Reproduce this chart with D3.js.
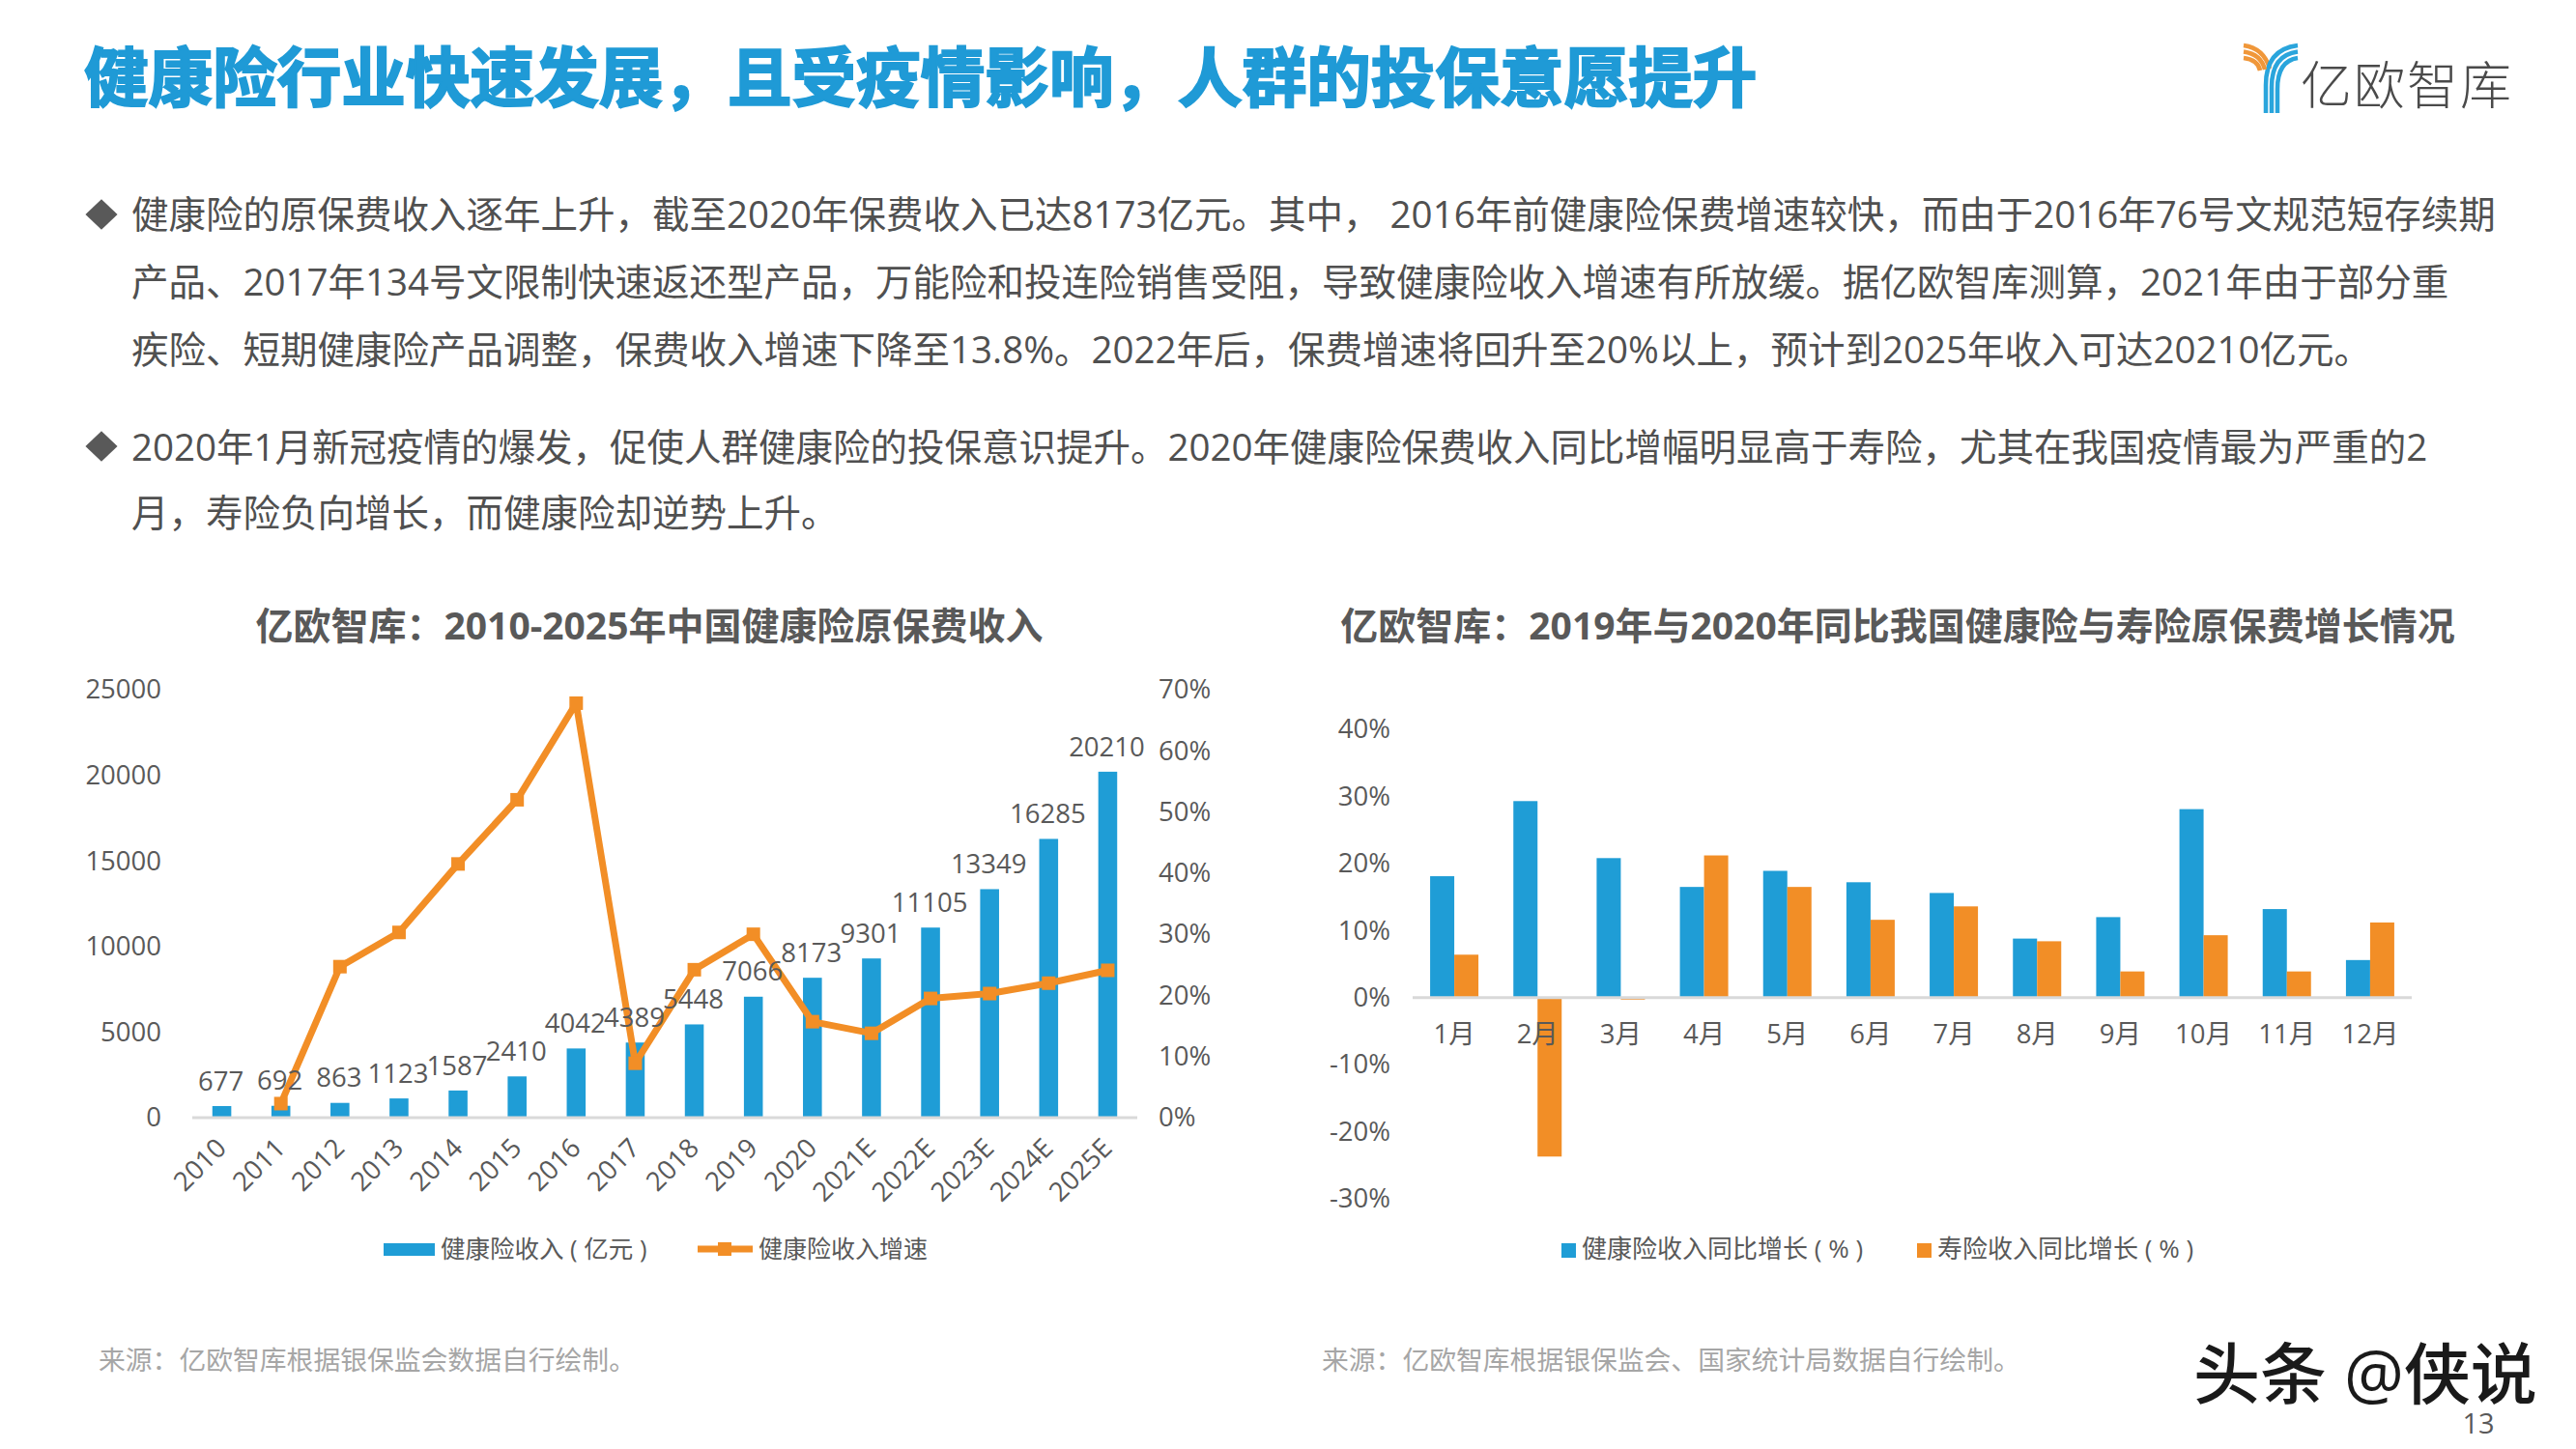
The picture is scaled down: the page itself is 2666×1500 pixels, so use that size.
<!DOCTYPE html>
<html>
<head>
<meta charset="utf-8">
<script src="https://cdnjs.cloudflare.com/ajax/libs/d3/7.8.5/d3.min.js"></script>
<style>
  html, body { margin: 0; padding: 0; background: #fff; }
  text { font-family: "Open Sans", "Noto Sans CJK SC", sans-serif; }
</style>
</head>
<body>
<div id="page"></div>
<script>
//// DATA ///////////////////////////////////////////////////////////////////////
var years = ["2010", "2011", "2012", "2013", "2014", "2015", "2016", "2017", "2018", "2019",
             "2020", "2021E", "2022E", "2023E", "2024E", "2025E"];
var income = [677, 692, 863, 1123, 1587, 2410, 4042, 4389, 5448, 7066, 8173, 9301, 11105, 13349, 16285, 20210];
var growth = [null, 2.3, 24.7, 30.3, 41.5, 52, 67.8, 8.9, 24.2, 30, 15.7, 13.8, 19.5, 20.3, 22, 24.1];
var incomeTicks = [0, 5000, 10000, 15000, 20000, 25000];
var growthTicks = [0, 10, 20, 30, 40, 50, 60, 70];

var months = ["1月", "2月", "3月", "4月", "5月", "6月", "7月", "8月", "9月", "10月", "11月", "12月"];
var healthYoy = [18.1, 29.3, 20.8, 16.5, 18.9, 17.2, 15.6, 8.8, 12.0, 28.1, 13.2, 5.6];
var lifeYoy = [6.4, -23.7, -0.3, 21.2, 16.5, 11.6, 13.6, 8.4, 3.9, 9.3, 3.9, 11.2];
var yoyTicks = [-30, -20, -10, 0, 10, 20, 30, 40];

var pageTitle = "健康险行业快速发展\uFF0C且受疫情影响\uFF0C人群的投保意愿提升";
var para1 = ["健康险的原保费收入逐年上升\uFF0C截至2020年保费收入已达8173亿元。其中\uFF0C 2016年前健康险保费增速较快\uFF0C而由于2016年76号文规范短存续期",
             "产品、2017年134号文限制快速返还型产品\uFF0C万能险和投连险销售受阻\uFF0C导致健康险收入增速有所放缓。据亿欧智库测算\uFF0C2021年由于部分重",
             "疾险、短期健康险产品调整\uFF0C保费收入增速下降至13.8%。2022年后\uFF0C保费增速将回升至20%以上\uFF0C预计到2025年收入可达20210亿元。"];
var para2 = ["2020年1月新冠疫情的爆发\uFF0C促使人群健康险的投保意识提升。2020年健康险保费收入同比增幅明显高于寿险\uFF0C尤其在我国疫情最为严重的2",
             "月\uFF0C寿险负向增长\uFF0C而健康险却逆势上升。"];
var leftTitle = "亿欧智库\uFF1A2010-2025年中国健康险原保费收入";
var rightTitle = "亿欧智库\uFF1A2019年与2020年同比我国健康险与寿险原保费增长情况";
var leftSource = "来源\uFF1A亿欧智库根据银保监会数据自行绘制。";
var rightSource = "来源\uFF1A亿欧智库根据银保监会、国家统计局数据自行绘制。";

//// SETTINGS ///////////////////////////////////////////////////////////////////
var width = 2666, height = 1500;
var blue = "#1f9dd6", orange = "#f28e26", textGrey = "#595959", bodyGrey = "#505050";

var svg = d3.select("#page").append("svg")
    .attr("width", width)
    .attr("height", height)
    .style("display", "block");

function put_text(x, y, str, size, fill, weight, anchor) {
    return svg.append("text")
        .attr("x", x)
        .attr("y", y)
        .attr("dy", ".35em")
        .style("font-size", size + "px")
        .style("font-weight", weight || "normal")
        .style("text-anchor", anchor || "start")
        .attr("fill", fill)
        .text(str);
}

//// HEADER /////////////////////////////////////////////////////////////////////
put_text(87, 82, pageTitle, 66.6, "#1f9ad6", "bold")
    .attr("stroke", "#1f9ad6").attr("stroke-width", 2);

// Logo: the orange and blue stripes of the Y.
var logo = svg.append("g").attr("fill", "none").attr("stroke-width", 4.5);
[0, 1, 2].forEach(function(i) {
    logo.append("path")
        .attr("stroke", "#f0973a")
        .attr("d", "M2322 " + (47 + i * 6.5) + "Q" + (2343 - i * 3) + " " + (50 + i * 6) + " " + (2349 - i * 5) + " " + (71 + i));
    logo.append("path")
        .attr("stroke", "#2aa5dc")
        .attr("d", "M" + (2345 + i * 6) + " 117V" + (88 + i * 2) + "Q" + (2345 + i * 6) + " " + (51 + i * 6) + " 2378 " + (47 + i * 6.5));
});
put_text(2381, 89, "亿欧智库", 53, "#4a4a4a", "200").style("font-family", "'Noto Sans CJK SC'").style("letter-spacing", "2px");

//// BODY TEXT //////////////////////////////////////////////////////////////////
var bodyY = [223, 293, 363];
para1.forEach(function(line, i) { put_text(136, bodyY[i], line, 38.5, bodyGrey); });
var bodyY2 = [464, 532];
para2.forEach(function(line, i) { put_text(136, bodyY2[i], line, 38.5, bodyGrey); });
[222, 462].forEach(function(y) {
    svg.append("path")
        .attr("d", d3.symbol(d3.symbolDiamond2, 700)())
        .attr("transform", "translate(105," + y + ") scale(1,.95)")
        .attr("fill", textGrey);
});

//// LEFT CHART /////////////////////////////////////////////////////////////////
put_text(672, 648, leftTitle, 39, textGrey, "bold", "middle");

var x1 = d3.scaleBand().domain(years).range([199, 1177]).paddingInner(0.68).paddingOuter(0.34);
var yIncome = d3.scaleLinear().domain([0, 25000]).range([1157, 714]);
var yGrowth = d3.scaleLinear().domain([0, 70]).range([1157, 714]);
var center1 = function(d) { return x1(d) + x1.bandwidth() / 2; };

function style_axis(g) {
    g.select(".domain").remove();
    g.selectAll(".tick line").remove();
    g.selectAll("text")
        .style("font-size", "27.5px")
        .style("font-family", "'Open Sans','Noto Sans CJK SC',sans-serif")
        .attr("fill", textGrey);
}

svg.append("g")
    .attr("transform", "translate(167,0)")
    .call(d3.axisLeft(yIncome).tickValues(incomeTicks).tickSize(0).tickPadding(0).tickFormat(d3.format("d")))
    .call(style_axis);

svg.append("g")
    .attr("transform", "translate(1199,0)")
    .call(d3.axisRight(yGrowth).tickValues(growthTicks).tickSize(0).tickPadding(0).tickFormat(function(d) { return d + "%"; }))
    .call(style_axis);

svg.selectAll(".income-bar").data(income).enter().append("rect")
    .attr("class", "income-bar")
    .attr("x", function(d, i) { return x1(years[i]); })
    .attr("y", function(d) { return yIncome(d); })
    .attr("width", x1.bandwidth())
    .attr("height", function(d) { return yIncome(0) - yIncome(d); })
    .attr("fill", blue);

// Baseline under the bars, labels rotated like the spreadsheet does it.
svg.append("line")
    .attr("x1", 199).attr("x2", 1177)
    .attr("y1", yIncome(0)).attr("y2", yIncome(0))
    .attr("stroke", "#d9d9d9").attr("stroke-width", 3);

svg.append("g")
    .attr("transform", "translate(0," + yIncome(0) + ")")
    .call(d3.axisBottom(x1).tickSize(0).tickPadding(0))
    .call(style_axis)
    .selectAll("text")
    .attr("dy", null)
    .attr("y", 0)
    .style("text-anchor", "end")
    .attr("dominant-baseline", "middle")
    .attr("transform", "translate(1,28) rotate(-45)");

var growthLine = d3.line()
    .defined(function(d) { return d != null; })
    .x(function(d, i) { return center1(years[i]); })
    .y(function(d) { return yGrowth(d); });

svg.append("path")
    .attr("d", growthLine(growth))
    .attr("fill", "none")
    .attr("stroke", orange)
    .attr("stroke-width", 7)
    .attr("stroke-linejoin", "round");

svg.selectAll(".growth-point").data(growth).enter()
    .filter(function(d) { return d != null; })
    .append("rect")
    .attr("class", "growth-point")
    .attr("x", function(d) { var i = growth.indexOf(d); return center1(years[i]) - 7; })
    .attr("y", function(d) { return yGrowth(d) - 7; })
    .attr("width", 14)
    .attr("height", 14)
    .attr("fill", orange);

// Data labels go last, they sit on top of the line in the original.
svg.selectAll(".income-label").data(income).enter().append("text")
    .attr("class", "income-label")
    .attr("x", function(d, i) { return center1(years[i]) - 1; })
    .attr("y", function(d) { return yIncome(d) - 26; })
    .attr("dy", ".35em")
    .style("text-anchor", "middle")
    .style("font-size", "27.5px")
    .attr("fill", textGrey)
    .text(function(d) { return d; });

// Legend of the left chart.
svg.append("rect").attr("x", 397).attr("y", 1287).attr("width", 53).attr("height", 13).attr("fill", blue);
put_text(456, 1293, "健康险收入 ( 亿元 )", 25.5, textGrey);
svg.append("line").attr("x1", 722).attr("x2", 779).attr("y1", 1293).attr("y2", 1293)
    .attr("stroke", orange).attr("stroke-width", 7);
svg.append("rect").attr("x", 743).attr("y", 1286).attr("width", 14).attr("height", 14).attr("fill", orange);
put_text(785, 1293, "健康险收入增速", 25, textGrey);

//// RIGHT CHART ////////////////////////////////////////////////////////////////
put_text(1964, 648, rightTitle, 39, textGrey, "bold", "middle");

var x2 = d3.scaleBand().domain(months).range([1462, 2496]);
var yYoy = d3.scaleLinear().domain([-30, 40]).range([1241, 755]);
var barWidth = 25;

svg.append("g")
    .attr("transform", "translate(1439,0)")
    .call(d3.axisLeft(yYoy).tickValues(yoyTicks).tickSize(0).tickPadding(0).tickFormat(function(d) { return d + "%"; }))
    .call(style_axis);

svg.selectAll(".health-bar").data(healthYoy).enter().append("rect")
    .attr("class", "health-bar")
    .attr("x", function(d, i) { return x2(months[i]) + x2.bandwidth() / 2 - barWidth; })
    .attr("y", function(d) { return yYoy(Math.max(d, 0)); })
    .attr("width", barWidth)
    .attr("height", function(d) { return Math.abs(yYoy(d) - yYoy(0)); })
    .attr("fill", blue);

svg.selectAll(".life-bar").data(lifeYoy).enter().append("rect")
    .attr("class", "life-bar")
    .attr("x", function(d, i) { return x2(months[i]) + x2.bandwidth() / 2; })
    .attr("y", function(d) { return yYoy(Math.max(d, 0)); })
    .attr("width", barWidth)
    .attr("height", function(d) { return Math.abs(yYoy(d) - yYoy(0)); })
    .attr("fill", orange);

svg.append("line")
    .attr("x1", 1462).attr("x2", 2496)
    .attr("y1", yYoy(0)).attr("y2", yYoy(0))
    .attr("stroke", "#d9d9d9").attr("stroke-width", 3);

svg.append("g")
    .attr("transform", "translate(0," + yYoy(0) + ")")
    .call(d3.axisBottom(x2).tickSize(0).tickPadding(0))
    .call(style_axis)
    .selectAll("text")
    .attr("y", 28);

// Legend of the right chart.
svg.append("rect").attr("x", 1616).attr("y", 1287).attr("width", 15).attr("height", 15).attr("fill", blue);
put_text(1637, 1293, "健康险收入同比增长 ( % )", 26, textGrey);
svg.append("rect").attr("x", 1984).attr("y", 1287).attr("width", 15).attr("height", 15).attr("fill", orange);
put_text(2005, 1293, "寿险收入同比增长 ( % )", 26, textGrey);

//// FOOTER /////////////////////////////////////////////////////////////////////
put_text(102, 1408, leftSource, 27.8, "#a6a6a6");
put_text(1368, 1408, rightSource, 27.8, "#a6a6a6");
put_text(2270, 1424, "头条 @侠说", 69, "#1a1a1a", "500");
put_text(2565, 1474, "13", 29, textGrey, "normal", "middle");
</script>
</body>
</html>
